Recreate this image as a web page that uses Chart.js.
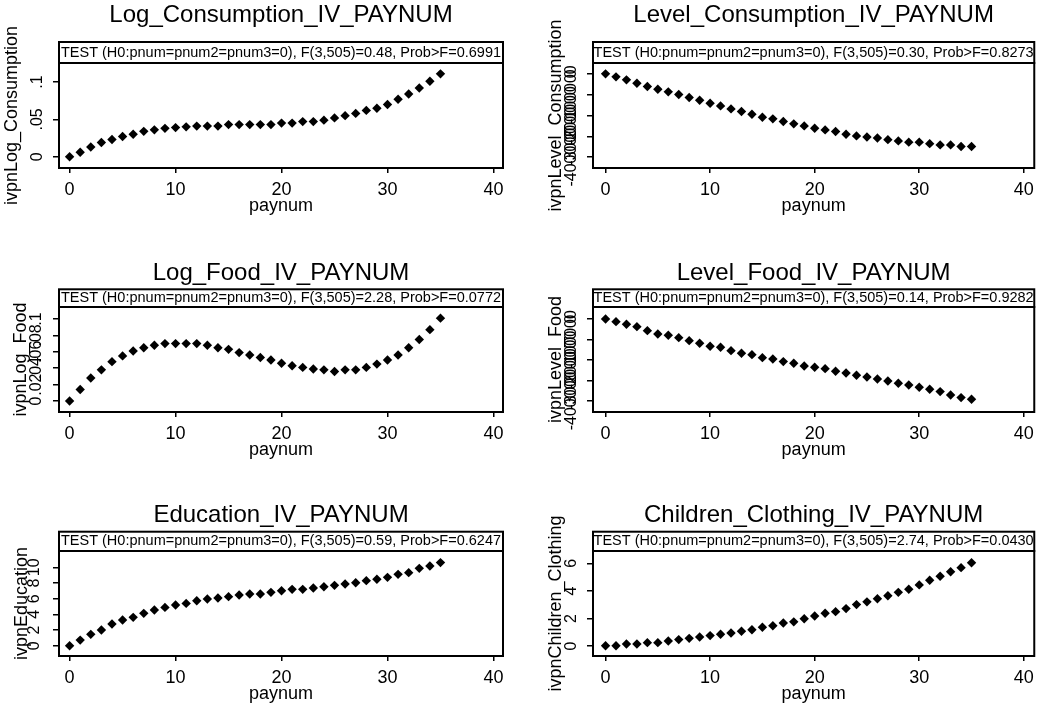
<!DOCTYPE html>
<html>
<head>
<meta charset="utf-8">
<script src="https://cdn.jsdelivr.net/npm/chart.js@4.4.1/dist/chart.umd.min.js"></script>
<style>
  html, body { margin: 0; padding: 0; background: #fff; }
  #wrap { position: relative; width: 1042px; height: 704px; overflow: hidden; }
  #wrap canvas { position: absolute; }
</style>
</head>
<body>
<div id="wrap">
  <canvas id="c1" width="521" height="244" style="left:0;top:0"></canvas>
  <canvas id="c2" width="521" height="244" style="left:521px;top:0"></canvas>
  <canvas id="c3" width="521" height="244" style="left:0;top:244px"></canvas>
  <canvas id="c4" width="521" height="244" style="left:521px;top:244px"></canvas>
  <canvas id="c5" width="521" height="216" style="left:0;top:488px"></canvas>
  <canvas id="c6" width="521" height="216" style="left:521px;top:488px"></canvas>
</div>
<script>
//x values shared by every panel
const paynum = [0, 1, 2, 3, 4, 5, 6, 7, 8, 9, 10, 11, 12, 13, 14, 15, 16, 17,
  18, 19, 20, 21, 22, 23, 24, 25, 26, 27, 28, 29, 30, 31, 32, 33, 34, 35];
const xTicks = [0, 10, 20, 30, 40];

//series
const logConsumption = [0.000, 0.006, 0.013, 0.019, 0.023, 0.027, 0.030, 0.034, 0.036, 0.038,
  0.039, 0.040, 0.041, 0.041, 0.041, 0.043, 0.043, 0.043, 0.043, 0.043, 0.045, 0.045,
  0.047, 0.047, 0.049, 0.052, 0.055, 0.058, 0.062, 0.065, 0.070, 0.077, 0.084, 0.092, 0.101, 0.111];
const levelConsumption = [0, -14400, -28800, -44900, -61000, -73700, -86500, -99400, -113900,
  -126600, -141000, -153800, -168300, -181000, -193900, -208300, -216000, -229000, -240000,
  -250000, -261000, -269000, -277000, -290000, -298000, -303000, -308000, -316000, -322000,
  -328000, -328000, -335000, -341000, -341000, -349000, -349000];
const logFood = [0.000, 0.014, 0.028, 0.038, 0.048, 0.055, 0.061, 0.065, 0.068, 0.070, 0.070,
  0.070, 0.070, 0.068, 0.065, 0.063, 0.059, 0.056, 0.053, 0.050, 0.046, 0.043, 0.041, 0.039,
  0.038, 0.036, 0.038, 0.038, 0.041, 0.045, 0.050, 0.056, 0.065, 0.075, 0.087, 0.101];
const levelFood = [0, -13000, -26000, -37400, -56900, -73200, -79700, -91000, -105700, -118700,
  -133300, -138200, -154500, -167500, -174000, -188600, -195100, -208100, -216300, -229300,
  -235800, -242300, -255300, -263400, -274800, -282900, -292700, -302400, -313800, -322000,
  -333300, -343100, -354500, -370700, -383700, -391900];
const education = [0.0, 0.72, 1.45, 2.0, 2.77, 3.28, 3.62, 4.13, 4.55, 4.89, 5.19, 5.4, 5.74,
  5.96, 6.09, 6.26, 6.47, 6.6, 6.6, 6.81, 7.02, 7.19, 7.19, 7.36, 7.53, 7.7, 7.87, 8.04, 8.3,
  8.47, 8.72, 9.1, 9.32, 9.87, 10.17, 10.6];
const childrenClothing = [0.02, 0.02, 0.15, 0.15, 0.25, 0.25, 0.37, 0.47, 0.56, 0.66, 0.76,
  0.86, 0.95, 1.08, 1.18, 1.37, 1.47, 1.67, 1.76, 1.98, 2.18, 2.38, 2.5, 2.72, 3.01, 3.21,
  3.43, 3.65, 3.9, 4.12, 4.44, 4.78, 5.07, 5.39, 5.69, 6.05];

//y tick values and labels
const logConsTicks = [0, 0.05, 0.1];
const logConsLabels = ["0", ".05", ".1"];
const levelTicks = [0, -100000, -200000, -300000, -400000];
const levelLabels = ["0", "-100000", "-200000", "-300000", "-400000"];
const logFoodTicks = [0, 0.02, 0.04, 0.06, 0.08, 0.1];
const logFoodLabels = ["0", ".02", ".04", ".06", ".08", ".1"];
const educTicks = [0, 2, 4, 6, 8, 10];
const educLabels = ["0", "2", "4", "6", "8", "10"];
const clothTicks = [0, 2, 4, 6];
const clothLabels = ["0", "2", "4", "6"];

//test lines shown under each title
const testHead = "TEST (H0:pnum=pnum2=pnum3=0), ";
const tests = ["F(3,505)=0.48, Prob>F=0.6991", "F(3,505)=0.30, Prob>F=0.8273",
  "F(3,505)=2.28, Prob>F=0.0772", "F(3,505)=0.14, Prob>F=0.9282",
  "F(3,505)=0.59, Prob>F=0.6247", "F(3,505)=2.74, Prob>F=0.0430"];

const family = '"Liberation Sans", Arial, sans-serif';
const yTickSize = 16;
Chart.defaults.font.family = family;
Chart.defaults.color = "#000";

//width of the widest y tick label, used to centre rotated labels
function widest(labels) {
  const ctx = document.createElement("canvas").getContext("2d");
  ctx.font = yTickSize + "px " + family;
  return Math.max(...labels.map((t) => ctx.measureText(t).width));
}

//frame round the plot and round the test line
const boxes = {
  id: "boxes",
  afterDraw(chart) {
    const { ctx, chartArea: a } = chart;
    const top = chart.titleBlock.bottom;
    ctx.save();
    ctx.strokeStyle = "#000";
    ctx.lineWidth = 2;
    ctx.strokeRect(a.left, a.top, a.right - a.left, a.bottom - a.top);
    ctx.strokeRect(a.left, top, a.right - a.left, a.top - top);
    ctx.restore();
  },
};

function makeChart(p) {
  const right = p.col === 1;
  const row = [{ t: 15, b: 42 }, { t: 29, b: 45.3 }, { t: 27, b: 43.7 }][p.row];
  const yPad = p.labelDist - 6 - widest(p.yLabels) / 2;

  new Chart(document.getElementById(p.id), {
    type: "scatter",
    data: {
      datasets: [
        {
          data: paynum.map((x, i) => ({ x: x, y: p.values[i] })),
          pointStyle: "rectRot",
          pointRadius: 4.7,
          pointHoverRadius: 4.7,
          pointBorderWidth: 0,
          backgroundColor: "#000",
        },
      ],
    },
    options: {
      responsive: false,
      animation: false,
      events: [],
      layout: { padding: { left: 0, top: 0, right: right ? 3 : 18, bottom: p.row === 2 ? 1 : 29 } },
      plugins: {
        legend: { display: false },
        tooltip: { enabled: false },
        title: {
          display: true,
          text: p.title,
          fullSize: false,
          color: "#000",
          font: { size: 24, weight: "normal", lineHeight: 1.2 },
          padding: { top: row.t - 14.4, bottom: row.b - row.t - 14.4 },
        },
        subtitle: {
          display: true,
          text: testHead + p.test,
          fullSize: false,
          color: "#000",
          font: { size: 14.5, lineHeight: 1.2 },
          padding: (63 - row.b - 17.4) / 2,
        },
      },
      scales: {
        x: {
          type: "linear",
          min: right ? -1.2 : -1,
          max: right ? 41 : 40.9,
          afterBuildTicks: (s) => { s.ticks = xTicks.map((v) => ({ value: v })); },
          afterFit: (s) => { s.height = 47; },
          grid: { drawOnChartArea: false, tickLength: 5, color: "#000", lineWidth: 1.5 },
          border: { display: false },
          ticks: { font: { size: 18, lineHeight: 1 }, padding: 8, maxRotation: 0, autoSkip: false, color: "#000" },
          title: { display: true, text: "paynum", font: { size: 18, lineHeight: 1 }, padding: 0, color: "#000" },
        },
        y: {
          min: p.yMin,
          max: p.yMax,
          afterBuildTicks: (s) => { s.ticks = p.yTicks.map((v) => ({ value: v })); },
          afterFit: (s) => { s.width = right ? 72 : 59; },
          grid: { drawOnChartArea: false, tickLength: 6, color: "#000", lineWidth: 1.5 },
          border: { display: false },
          ticks: {
            font: { size: yTickSize, lineHeight: 1.2 },
            minRotation: 90,
            maxRotation: 90,
            autoSkip: false,
            crossAlign: "center",
            padding: yPad,
            color: "#000",
            callback: (v) => p.yLabels[p.yTicks.indexOf(v)],
          },
          title: {
            display: true,
            text: p.yTitle,
            font: { size: 18, lineHeight: 1 },
            padding: { top: p.titleX - 9, bottom: 0 },
            color: "#000",
          },
        },
      },
    },
    plugins: [boxes],
  });
}

makeChart({ id: "c1", row: 0, col: 0, title: "Log_Consumption_IV_PAYNUM", test: tests[0],
  values: logConsumption, yTitle: "ivpnLog_Consumption", yTicks: logConsTicks, yLabels: logConsLabels,
  yMin: -0.0151, yMax: 0.1255, titleX: 12, labelDist: 21 });
makeChart({ id: "c2", row: 0, col: 1, title: "Level_Consumption_IV_PAYNUM", test: tests[1],
  values: levelConsumption, yTitle: "ivpnLevel_Consumption", yTicks: levelTicks, yLabels: levelLabels,
  yMin: -452000, yMax: 52000, titleX: 35, labelDist: 21.5 });
makeChart({ id: "c3", row: 1, col: 0, title: "Log_Food_IV_PAYNUM", test: tests[2],
  values: logFood, yTitle: "ivpnLog_Food", yTicks: logFoodTicks, yLabels: logFoodLabels,
  yMin: -0.0134, yMax: 0.1146, titleX: 21, labelDist: 22 });
makeChart({ id: "c4", row: 1, col: 1, title: "Level_Food_IV_PAYNUM", test: tests[3],
  values: levelFood, yTitle: "ivpnLevel_Food", yTicks: levelTicks, yLabels: levelLabels,
  yMin: -454000, yMax: 58500, titleX: 35, labelDist: 21.5 });
makeChart({ id: "c5", row: 2, col: 0, title: "Education_IV_PAYNUM", test: tests[4],
  values: education, yTitle: "ivpnEducation", yTicks: educTicks, yLabels: educLabels,
  yMin: -1.31, yMax: 12.08, titleX: 22, labelDist: 24 });
makeChart({ id: "c6", row: 2, col: 1, title: "Children_Clothing_IV_PAYNUM", test: tests[5],
  values: childrenClothing, yTitle: "ivpnChildren_Clothing", yTicks: clothTicks, yLabels: clothLabels,
  yMin: -0.72, yMax: 6.9, titleX: 35, labelDist: 21.5 });
</script>
</body>
</html>
